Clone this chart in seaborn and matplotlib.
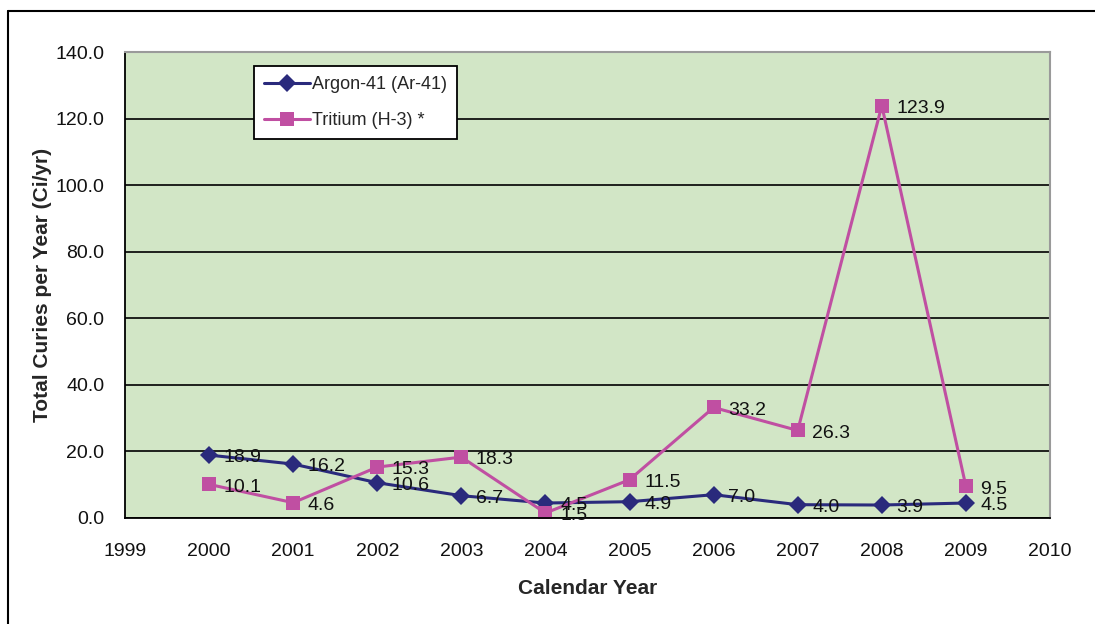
import matplotlib
matplotlib.use("Agg")
import matplotlib.pyplot as plt
import seaborn as sns
import pandas as pd
from matplotlib.lines import Line2D

years = [2000, 2001, 2002, 2003, 2004, 2005, 2006, 2007, 2008, 2009]
argon = [18.9, 16.2, 10.6, 6.7, 4.5, 4.9, 7.0, 4.0, 3.9, 4.5]
tritium = [10.1, 4.6, 15.3, 18.3, 1.5, 11.5, 33.2, 26.3, 123.9, 9.5]
series_names = ["Argon-41 (Ar-41)", "Tritium (H-3) *"]
y_ticks = [0, 20, 40, 60, 80, 100, 120, 140]
x_ticks = list(range(1999, 2011))

df = pd.DataFrame({
    "year": years * 2,
    "value": argon + tritium,
    "series": [series_names[0]] * len(years) + [series_names[1]] * len(years),
})

sns.set_theme(style="white")
plt.rcParams["font.family"] = ["Liberation Sans", "DejaVu Sans"]

fig = plt.figure(figsize=(10.95, 6.24), dpi=100)
ax = fig.add_axes([125 / 1095, 1 - 518 / 624, 925 / 1095, 466 / 624])
ax.set_facecolor("#D2E6C6")

colors = {series_names[0]: "#2A2A7C", series_names[1]: "#C04FA2"}
markers = {series_names[0]: "D", series_names[1]: "s"}

sns.lineplot(data=df, x="year", y="value", hue="series", style="series",
             palette=colors, markers=markers, dashes=False, ax=ax,
             linewidth=2.2, markersize=10, markeredgewidth=0, legend=True)
for ln in ax.lines:
    if ln.get_marker() == "D":
        ln.set_markersize(9.5)

ax.set_xlim(1999, 2010)
ax.set_ylim(0, 140)
ax.set_xticks(x_ticks)
ax.set_xticklabels([str(x) for x in x_ticks], fontsize=14)
ax.set_yticks(y_ticks)
ax.set_yticklabels([f"{v:.1f}" for v in y_ticks], fontsize=14)
ax.tick_params(axis="both", direction="out", length=6, width=1.2, color="black",
               labelcolor="#111111")
ax.tick_params(axis="x", pad=12)
ax.tick_params(axis="y", pad=9)
ax.yaxis.grid(True, color="black", linewidth=1.2)
ax.xaxis.grid(False)
ax.set_axisbelow(True)
for s in ["left", "bottom"]:
    ax.spines[s].set_color("black")
    ax.spines[s].set_linewidth(1.3)
for s in ["right", "top"]:
    ax.spines[s].set_color("#9A9A9A")
    ax.spines[s].set_linewidth(1.5)

ax.set_xlabel("Calendar Year", fontsize=15, fontweight="bold", labelpad=14)
ax.set_ylabel("Total Curies per Year (Ci/yr)", fontsize=15, fontweight="bold", labelpad=2)

for vals in (argon, tritium):
    for x, v in zip(years, vals):
        ax.annotate(f"{v:.1f}", (x, v), xytext=(10.5, -2), textcoords="offset points",
                    ha="left", va="center", fontsize=14, color="#111111")

handles, labels = ax.get_legend_handles_labels()
leg = ax.legend(handles, labels, loc="upper left", bbox_to_anchor=(0.139, 0.970),
                fontsize=13, frameon=True, fancybox=False, edgecolor="black",
                facecolor="white", framealpha=1, borderpad=0.55, handlelength=2.6,
                handletextpad=0.1, labelspacing=1.05, borderaxespad=0)
leg.get_frame().set_linewidth(1.3)

fig.add_artist(Line2D([8 / 1095, 1.0], [1 - 11 / 624, 1 - 11 / 624], color="black",
                      linewidth=1.5, transform=fig.transFigure))
fig.add_artist(Line2D([8 / 1095, 8 / 1095], [0, 1 - 11 / 624], color="black",
                      linewidth=1.5, transform=fig.transFigure))

fig.savefig("out.png", dpi=100, facecolor="white")
